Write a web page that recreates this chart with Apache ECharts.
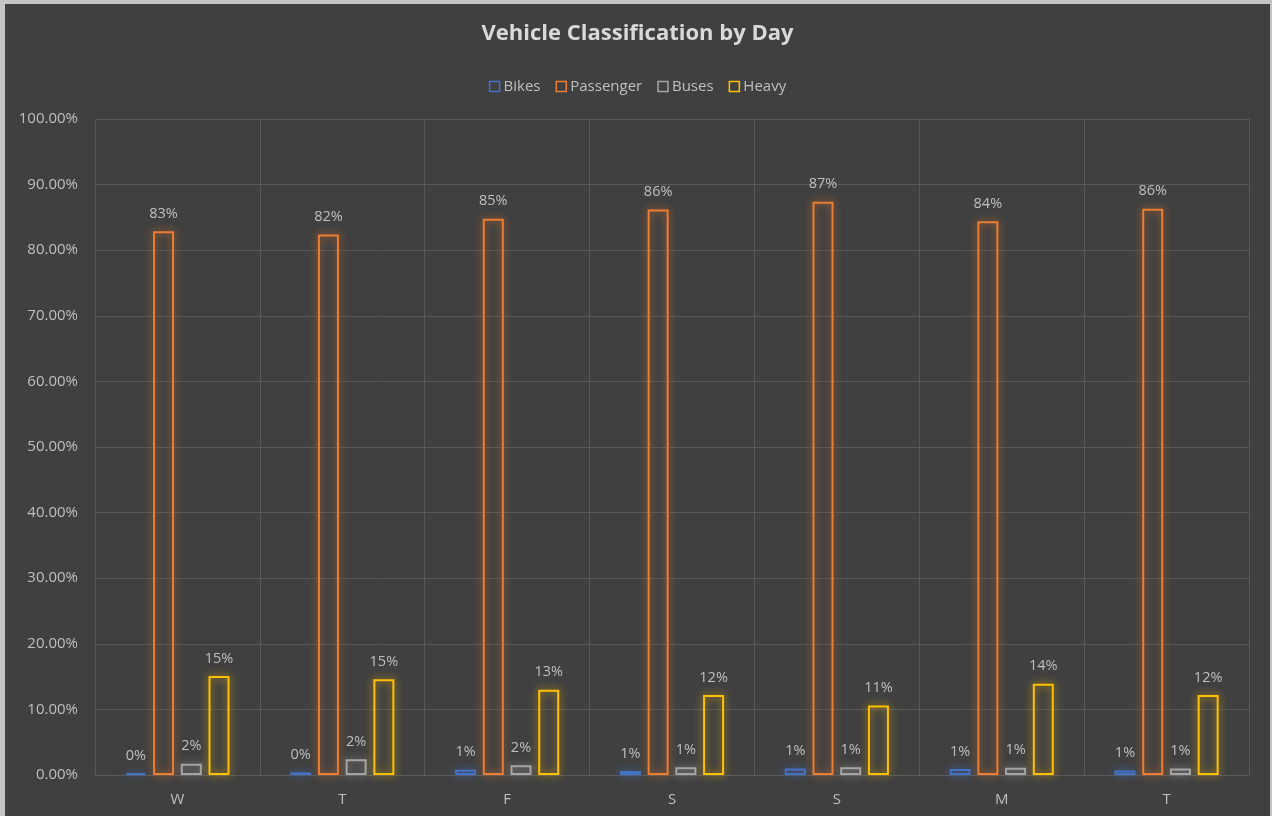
<!DOCTYPE html>
<html>
<head>
<meta charset="utf-8">
<script src="https://cdn.jsdelivr.net/npm/echarts@6/dist/echarts.min.js"></script>
<style>
  html, body { margin: 0; padding: 0; background: #c4c4c4; }
  #frame {
    position: absolute; left: 0; top: 0; width: 1272px; height: 816px;
    box-sizing: border-box; border-left: 5px solid #c4c4c4; border-top: 4px solid #c4c4c4;
    border-right: 2px solid #c4c4c4; background: #404040;
  }
  #chart { width: 1265px; height: 812px; }
</style>
</head>
<body>
<div id="frame"><div id="chart"></div></div>
<script>
// Share of each vehicle class per weekday, in percent
const days = ['W', 'T', 'F', 'S', 'S', 'M', 'T'];
const bikes = [0.3, 0.4, 0.8, 0.6, 1.0, 0.9, 0.7];
const passenger = [82.9, 82.4, 84.8, 86.2, 87.4, 84.4, 86.3];
const buses = [1.7, 2.4, 1.5, 1.2, 1.2, 1.1, 1.0];
const heavy = [15.1, 14.6, 13.0, 12.2, 10.6, 13.9, 12.2];
const yTicks = [0, 10, 20, 30, 40, 50, 60, 70, 80, 90, 100];

const FONT = '"Open Sans", "Noto Sans", sans-serif';
const TEXT = '#bfbfbf';

function outlinedBar(name, data, color, glow) {
  return {
    name: name,
    type: 'bar',
    data: data,
    barWidth: 21,
    barGap: '32%',
    itemStyle: {
      color: 'rgba(0,0,0,0)',
      borderColor: color,
      borderWidth: 2,
      shadowColor: glow,
      shadowBlur: 9
    },
    label: {
      show: true,
      position: 'top',
      distance: 10,
      color: TEXT,
      fontFamily: FONT,
      fontSize: 14.5,
      formatter: p => Math.round(p.value) + '%'
    }
  };
}

const chart = echarts.init(document.getElementById('chart'));
chart.setOption({
  backgroundColor: '#404040',
  animation: false,
  title: {
    text: 'Vehicle Classification by Day',
    left: 'center',
    top: 14,
    textStyle: { color: '#d9d9d9', fontFamily: FONT, fontSize: 22, fontWeight: 'bold' }
  },
  legend: {
    top: 70,
    left: 'center',
    icon: 'rect',
    itemWidth: 10,
    itemHeight: 10,
    itemGap: 15,
    textStyle: { color: TEXT, fontFamily: FONT, fontSize: 15, padding: [0, 0, 0, -1] },
    itemStyle: { color: 'rgba(0,0,0,0)', borderWidth: 1.5, shadowBlur: 0 }
  },
  grid: { left: 90, right: 21, top: 115, bottom: 41, containLabel: false },
  xAxis: {
    type: 'category',
    data: days,
    axisLine: { show: true, lineStyle: { color: '#5a5a5a' } },
    axisTick: { show: false },
    splitLine: { show: true, lineStyle: { color: '#575757', width: 1 } },
    axisLabel: { color: TEXT, fontFamily: FONT, fontSize: 15, margin: 17 }
  },
  yAxis: {
    type: 'value',
    min: yTicks[0],
    max: yTicks[yTicks.length - 1],
    interval: 10,
    axisLine: { show: false },
    axisTick: { show: false },
    splitLine: { lineStyle: { color: '#575757', width: 1 } },
    axisLabel: {
      color: TEXT, fontFamily: FONT, fontSize: 15, margin: 17,
      formatter: v => v.toFixed(2) + '%'
    }
  },
  series: [
    outlinedBar('Bikes', bikes, '#4472c4', 'rgba(68,114,196,0.85)'),
    outlinedBar('Passenger', passenger, '#ed7d31', 'rgba(237,125,49,0.85)'),
    outlinedBar('Buses', buses, '#a5a5a5', 'rgba(165,165,165,0.85)'),
    outlinedBar('Heavy', heavy, '#ffc000', 'rgba(255,192,0,0.85)')
  ]
});
</script>
</body>
</html>
